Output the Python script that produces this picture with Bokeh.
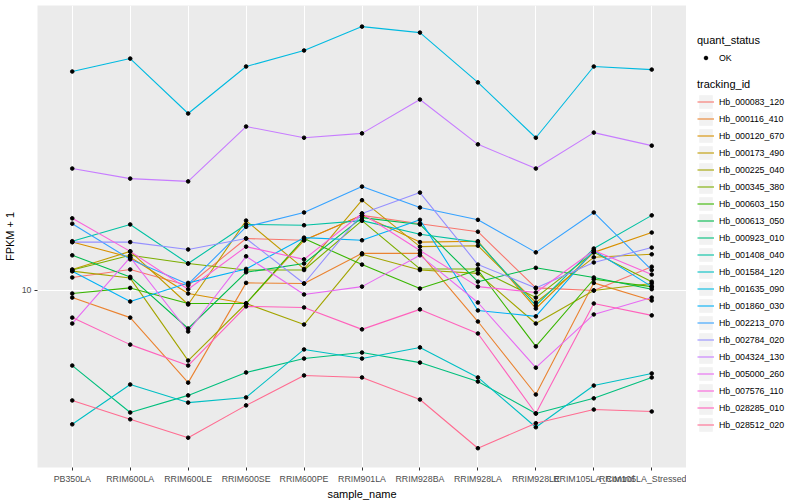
from bokeh.plotting import figure
from bokeh.layouts import row
from bokeh.models import FactorRange, Range1d, FixedTicker, Legend, LegendItem, BasicTickFormatter
from bokeh.embed import file_html
from bokeh.resources import INLINE

samples = ["PB350LA", "RRIM600LA", "RRIM600LE", "RRIM600SE", "RRIM600PE", "RRIM901LA",
           "RRIM928BA", "RRIM928LA", "RRIM928LE", "RRIM105LA_Control", "RRIM105LA_Stressed"]

tracking_ids = ["Hb_000083_120", "Hb_000116_410", "Hb_000120_670", "Hb_000173_490", "Hb_000225_040",
                "Hb_000345_380", "Hb_000603_150", "Hb_000613_050", "Hb_000923_010", "Hb_001408_040",
                "Hb_001584_120", "Hb_001635_090", "Hb_001860_030", "Hb_002213_070", "Hb_002784_020",
                "Hb_004324_130", "Hb_005000_260", "Hb_007576_110", "Hb_028285_010", "Hb_028512_020"]

colors = ["#F8766D", "#EA8331", "#D89000", "#C09B00", "#A3A500", "#7CAE00", "#39B600", "#00BB4E",
          "#00BF7D", "#00C1A3", "#00BFC4", "#00BAE0", "#00B0F6", "#35A2FF", "#9590FF", "#C77CFF",
          "#E76BF3", "#FA62DB", "#FF62BC", "#FF6C91"]

# FPKM + 1 per sample
Hb_000083_120 = [11.05, 11.75, 10.39, 14.9, 14.7, 17.8, 16.7, 15.7, 10.2, 10.0, 12.0]
Hb_000116_410 = [9.47, 8.12, 4.93, 10.6, 10.55, 13.3, 13.3, 7.88, 4.50, 10.6, 9.26]
Hb_000120_670 = [14.5, 12.9, 9.77, 9.05, 14.7, 17.8, 14.5, 14.6, 8.71, 13.4, 15.6]
Hb_000173_490 = [11.75, 13.5, 8.98, 17.1, 11.8, 20.0, 14.0, 14.1, 9.12, 12.9, 13.2]
Hb_000225_040 = [11.6, 11.0, 5.84, 9.05, 7.70, 13.2, 11.7, 11.4, 7.76, 10.0, 10.55]
Hb_000345_380 = [11.7, 13.1, 12.3, 11.7, 11.7, 17.1, 11.8, 11.8, 9.47, 13.4, 10.7]
Hb_000603_150 = [9.77, 10.2, 9.05, 9.05, 14.9, 12.2, 10.15, 11.7, 6.51, 10.9, 10.3]
Hb_000613_050 = [13.1, 11.1, 7.47, 11.5, 12.3, 17.5, 16.6, 10.7, 11.9, 11.05, 10.1]
Hb_000923_010 = [5.62, 3.92, 4.47, 5.33, 5.93, 6.21, 5.75, 4.97, 3.89, 4.37, 5.13]
Hb_001408_040 = [14.6, 16.6, 12.3, 16.6, 16.5, 17.1, 15.4, 14.5, 8.91, 13.8, 17.8]
Hb_001584_120 = [3.58, 4.86, 4.23, 4.40, 6.36, 5.93, 6.46, 5.13, 3.50, 4.82, 5.29]
Hb_001635_090 = [53.7, 59.3, 38.9, 55.8, 63.1, 75.8, 72.4, 49.4, 32.3, 55.8, 54.5]
Hb_001860_030 = [11.6, 9.19, 10.6, 11.8, 15.0, 14.7, 17.2, 8.58, 8.20, 13.6, 10.3]
Hb_002213_070 = [16.7, 12.7, 10.5, 16.3, 18.2, 22.2, 18.9, 17.2, 13.4, 18.2, 11.7]
Hb_002784_020 = [14.5, 14.5, 13.7, 14.9, 10.55, 18.05, 21.2, 12.2, 10.2, 12.4, 13.9]
Hb_004324_130 = [25.5, 23.6, 23.1, 35.2, 32.3, 33.4, 43.3, 30.7, 25.5, 33.6, 30.4]
Hb_005000_260 = [7.76, 12.9, 7.30, 13.0, 9.70, 10.3, 13.1, 9.12, 5.53, 8.32, 9.47]
Hb_007576_110 = [17.4, 13.5, 10.1, 14.0, 12.7, 18.05, 13.6, 10.3, 9.85, 13.6, 11.3]
Hb_028285_010 = [8.12, 6.60, 5.62, 8.85, 8.78, 7.42, 8.65, 7.19, 3.89, 9.05, 8.26]
Hb_028512_020 = [4.30, 3.72, 3.23, 4.14, 5.21, 5.13, 4.33, 2.98, 3.61, 4.01, 3.95]

series = [Hb_000083_120, Hb_000116_410, Hb_000120_670, Hb_000173_490, Hb_000225_040,
          Hb_000345_380, Hb_000603_150, Hb_000613_050, Hb_000923_010, Hb_001408_040,
          Hb_001584_120, Hb_001635_090, Hb_001860_030, Hb_002213_070, Hb_002784_020,
          Hb_004324_130, Hb_005000_260, Hb_007576_110, Hb_028285_010, Hb_028512_020]

y_ticks = [10]
FONT = "Liberation Sans"
H = 498

p = figure(x_range=FactorRange(factors=samples, range_padding=0.1, range_padding_units="absolute"),
           y_range=Range1d(2.570, 89.13), y_axis_type="log",
           frame_width=649, frame_height=462,
           min_border_left=35, min_border_right=0, min_border_top=5, min_border_bottom=20,
           output_backend="svg", toolbar_location=None)

p.background_fill_color = "#EBEBEB"
p.border_fill_color = "white"
p.outline_line_color = None

p.xgrid.grid_line_color = "white"
p.xgrid.grid_line_width = 1.1
p.ygrid.grid_line_color = "white"
p.ygrid.grid_line_width = 1.1
p.ygrid.ticker = FixedTicker(ticks=y_ticks)
p.ygrid.minor_grid_line_color = None

p.yaxis.ticker = FixedTicker(ticks=y_ticks)
p.yaxis.formatter = BasicTickFormatter()

for ax in (p.xaxis, p.yaxis):
    ax.axis_line_color = None
    ax.major_tick_line_color = "#333333"
    ax.major_tick_in = 0
    ax.major_tick_out = 3
    ax.minor_tick_line_color = None
    ax.major_label_text_font = FONT
    ax.major_label_text_font_size = "8.8px"
    ax.major_label_text_color = "#4D4D4D"
    ax.axis_label_text_font = FONT
    ax.axis_label_text_font_size = "11px"
    ax.axis_label_text_font_style = "normal"
    ax.axis_label_text_color = "black"

p.xaxis.axis_label = "sample_name"
p.yaxis.axis_label = "FPKM + 1"
p.xaxis.major_label_standoff = 3
p.xaxis.axis_label_standoff = 1
p.yaxis.major_label_standoff = 3
p.yaxis.axis_label_standoff = 3
p.xaxis.major_label_orientation = "horizontal"

for col, vals in zip(colors, series):
    p.line(x=samples, y=vals, line_color=col, line_width=1.1)

px, py = [], []
for vals in series:
    px.extend(samples)
    py.extend(vals)
p.scatter(x=px, y=py, size=3.6, color="black", marker="circle")

# legend panel: same data, drawn out of view so only the legend keys show
lg = figure(width=116, height=H, x_range=FactorRange(factors=samples), y_range=Range1d(1000, 1001),
            x_axis_location=None, y_axis_location=None,
            min_border=0, output_backend="svg", toolbar_location=None)
lg.grid.visible = False
lg.outline_line_color = None
lg.background_fill_color = "white"
lg.border_fill_color = "white"

key_box = lg.rect(x=px, y=py, width=0.5, height=0.5, fill_color="#F2F2F2", line_color=None)

line_items = []
for tid, col, vals in zip(tracking_ids, colors, series):
    r = lg.line(x=samples, y=vals, line_color=col, line_width=1.1)
    line_items.append(LegendItem(label=tid, renderers=[key_box, r]))
pt = lg.scatter(x=px, y=py, size=3.6, color="black", marker="circle")

common = dict(padding=0, margin=0, spacing=0, label_height=17, glyph_width=17,
              label_standoff=5, title_standoff=3, background_fill_alpha=0, border_line_alpha=0,
              label_text_font=FONT, label_text_font_size="8.8px", label_text_color="black",
              title_text_font=FONT, title_text_font_size="11px", title_text_font_style="normal",
              title_text_color="black")

leg1 = Legend(items=[LegendItem(label="OK", renderers=[pt])], title="quant_status",
              location=(11, 397), glyph_height=9, **common)
leg2 = Legend(items=line_items, title="tracking_id", location=(11, 30), glyph_height=17, **common)
lg.add_layout(leg1)
lg.add_layout(leg2)

layout = row(p, lg, spacing=0)
open("out.html", "w").write(file_html(layout, INLINE))
